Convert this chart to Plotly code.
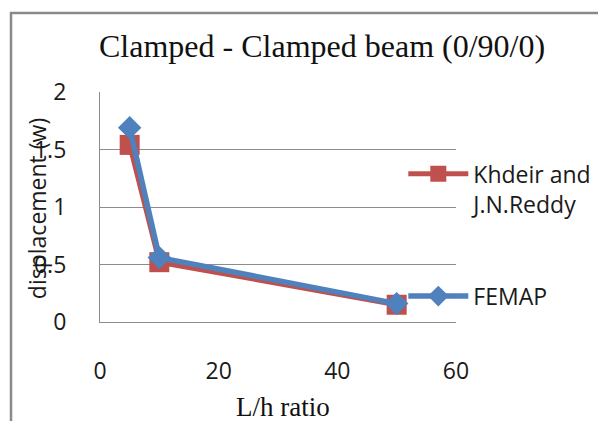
import plotly.graph_objects as go

# L/h ratios and central displacement for the clamped-clamped (0/90/0) beam
lh_ratio = [5, 10, 50]
khdeir_reddy = [1.54, 0.52, 0.15]
femap = [1.69, 0.56, 0.16]

x_ticks = [0, 20, 40, 60]
y_ticks = [0, 0.5, 1, 1.5, 2]

RED = "#C0504D"
BLUE = "#4F81BD"
GRID = "#8C8C8C"
LABEL_FONT = dict(family="Open Sans", size=23, color="#1a1a1a")
SERIF = "Liberation Serif"

fig = go.Figure()
fig.add_trace(go.Scatter(
    x=lh_ratio, y=khdeir_reddy, mode="lines+markers",
    name="Khdeir and<br>J.N.Reddy",
    line=dict(color=RED, width=5),
    marker=dict(symbol="square", size=20, color=RED),
    legend="legend",
))
fig.add_trace(go.Scatter(
    x=lh_ratio, y=femap, mode="lines+markers", name="FEMAP",
    line=dict(color=BLUE, width=5.5),
    marker=dict(symbol="diamond", size=18, color=BLUE),
    legend="legend2",
))

legend_common = dict(
    font=LABEL_FONT, bgcolor="rgba(0,0,0,0)", xanchor="left",
    yanchor="top", itemwidth=60, valign="top", tracegroupgap=0,
)

fig.update_layout(
    width=598, height=421,
    margin=dict(l=100, r=142, t=92, b=99, autoexpand=False),
    paper_bgcolor="white", plot_bgcolor="white",
    showlegend=True,
    legend=dict(x=0.852, y=0.738, **legend_common),
    legend2=dict(x=0.852, y=0.206, **legend_common),
    xaxis=dict(
        range=[0, 60], tickvals=x_ticks, showgrid=False, zeroline=False,
        showline=True, linecolor=GRID, linewidth=1.2,
        tickfont=LABEL_FONT, ticklabelstandoff=28, ticks="",
    ),
    yaxis=dict(
        range=[0, 2], tickvals=y_ticks, showgrid=True, gridcolor=GRID,
        gridwidth=1.2, zeroline=False, showline=True, linecolor=GRID,
        linewidth=1.2, tickfont=LABEL_FONT, ticklabelstandoff=28, ticks="",
    ),
    annotations=[
        dict(text="Clamped - Clamped beam (0/90/0)", xref="paper", yref="paper",
             x=0.624, y=1.2, xanchor="center", yanchor="middle",
             showarrow=False, font=dict(family=SERIF, size=32, color="#111")),
        dict(text="L/h ratio", xref="paper", yref="paper",
             x=0.514, y=-0.37, xanchor="center", yanchor="middle",
             showarrow=False, font=dict(family=SERIF, size=27, color="#111")),
        dict(text="displacement (w)", xref="paper", yref="paper",
             x=-0.177, y=0.495, xanchor="center", yanchor="middle",
             textangle=-90, showarrow=False, font=LABEL_FONT),
    ],
    shapes=[
        dict(type="rect", xref="paper", yref="paper",
             x0=-0.25, x1=2.0, y0=-1.0, y1=1.344,
             line=dict(color="#8a8a8a", width=2.5), fillcolor="rgba(0,0,0,0)"),
    ],
)

fig.write_html("out.html")
